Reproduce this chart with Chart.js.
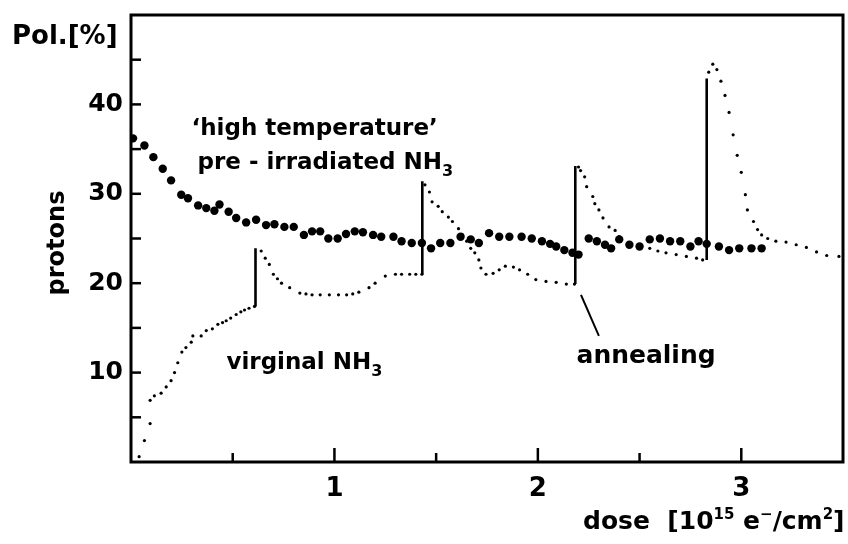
<!DOCTYPE html>
<html>
<head>
<meta charset="utf-8">
<script src="https://cdn.jsdelivr.net/npm/chart.js@4"></script>
<style>
  html, body { margin: 0; padding: 0; background: #fff; }
  canvas { display: block; }
</style>
</head>
<body>
<canvas id="grafica" width="848" height="544"></canvas>
<script>
// 'high temperature' pre-irradiated NH3 (big dots)
var highDose = [0.01, 0.066, 0.11, 0.156, 0.197, 0.247, 0.28, 0.33, 0.37, 0.41, 0.435, 0.48, 0.517, 0.566, 0.615,
  0.664, 0.705, 0.754, 0.80, 0.85, 0.89, 0.93, 0.97, 1.016, 1.057, 1.10, 1.14, 1.19, 1.23, 1.29, 1.33, 1.38, 1.43,
  1.475, 1.52, 1.57, 1.62, 1.67, 1.71, 1.76, 1.81, 1.86, 1.92, 1.97, 2.02, 2.06, 2.09, 2.13, 2.17, 2.20,
  2.25, 2.29, 2.33, 2.36, 2.40, 2.45, 2.50, 2.55, 2.60, 2.65, 2.70, 2.75, 2.79, 2.83, 2.89, 2.94, 2.99, 3.05, 3.10];
var highPol = [36.2, 35.4, 34.1, 32.8, 31.5, 29.9, 29.5, 28.7, 28.4, 28.1, 28.8, 28.0, 27.3, 26.8, 27.1,
  26.5, 26.6, 26.3, 26.3, 25.4, 25.8, 25.8, 25.0, 25.0, 25.5, 25.8, 25.7, 25.4, 25.2, 25.2, 24.7, 24.5, 24.5,
  23.9, 24.5, 24.5, 25.2, 24.9, 24.5, 25.6, 25.2, 25.2, 25.2, 25.0, 24.7, 24.4, 24.1, 23.7, 23.4, 23.2,
  25.0, 24.7, 24.3, 23.9, 24.9, 24.3, 24.1, 24.9, 25.0, 24.7, 24.7, 24.1, 24.7, 24.4, 24.1, 23.7, 23.9, 23.9, 23.9];

// virginal NH3 (small dots)
var virginDose = [0.04, 0.066, 0.094, 0.094, 0.115, 0.148, 0.173, 0.197, 0.214, 0.23, 0.25, 0.27, 0.296, 0.304,
  0.345, 0.37, 0.40, 0.427, 0.45, 0.468, 0.49, 0.517, 0.54, 0.558, 0.58, 0.607,
  0.64, 0.66, 0.68, 0.70, 0.72, 0.74, 0.78, 0.83, 0.86, 0.89, 0.93, 0.975, 1.02, 1.06, 1.09, 1.12, 1.17, 1.20,
  1.25, 1.30, 1.33, 1.37, 1.40, 1.43,
  1.445, 1.467, 1.48, 1.51, 1.53, 1.56, 1.58, 1.61, 1.63, 1.65, 1.67, 1.69, 1.71, 1.72, 1.745, 1.78, 1.81, 1.84,
  1.88, 1.91, 1.95, 1.99, 2.04, 2.09, 2.14, 2.18,
  2.20, 2.21, 2.23, 2.24, 2.27, 2.28, 2.30, 2.32, 2.35, 2.38, 2.40, 2.45, 2.50, 2.55, 2.59, 2.63, 2.68, 2.73,
  2.78, 2.81,
  2.84, 2.86, 2.88, 2.90, 2.92, 2.94, 2.96, 2.98, 3.00, 3.02, 3.03, 3.06, 3.08, 3.10, 3.13, 3.17, 3.22, 3.27,
  3.32, 3.37, 3.42, 3.48];
var virginPol = [0.6, 2.4, 4.3, 6.9, 7.4, 7.7, 8.4, 9.1, 10.0, 11.1, 12.3, 12.8, 13.4, 14.1,
  14.1, 14.7, 14.9, 15.4, 15.6, 15.8, 16.1, 16.5, 16.8, 17.0, 17.2, 17.4,
  23.6, 22.8, 22.1, 21.0, 20.5, 20.0, 19.5, 18.9, 18.8, 18.7, 18.7, 18.7, 18.7, 18.7, 18.8, 19.0, 19.5, 20.0,
  20.8, 21.0, 21.0, 21.0, 21.0, 21.0,
  31.0, 30.2, 29.1, 28.6, 28.0, 27.4, 26.9, 26.1, 25.4, 24.7, 23.9, 23.4, 22.6, 21.7, 21.0, 21.1, 21.5, 21.9,
  21.8, 21.5, 21.0, 20.4, 20.2, 20.1, 19.9, 19.9,
  33.0, 32.6, 31.9, 30.8, 29.7, 28.9, 28.2, 27.3, 26.3, 25.9, 25.2, 24.5, 24.1, 23.9, 23.6, 23.4, 23.2, 23.0,
  22.8, 22.6,
  43.6, 44.5, 43.9, 42.6, 41.0, 39.1, 36.6, 34.3, 32.4, 29.9, 28.2, 26.9, 26.0, 25.4, 25.0, 24.7, 24.6, 24.3,
  24.0, 23.5, 23.1, 23.0];

// annealing steps
var jumpDose = [0.612, 1.432, 2.184, 2.83];
var jumpLow = [17.4, 21.0, 19.9, 22.6];
var jumpHigh = [23.9, 31.4, 33.1, 42.9];

var xTicks = [1, 2, 3];
var yTicks = [10, 20, 30, 40];

var FONT = '"DejaVu Sans", "Liberation Sans", sans-serif';

function puntos(xs, ys) {
  return xs.map(function (v, i) { return { x: v, y: ys[i] }; });
}

var saltos = [];
jumpDose.forEach(function (d, i) {
  saltos.push({ x: d, y: jumpLow[i] }, { x: d, y: jumpHigh[i] }, { x: d, y: null });
});

function texto(ctx, x, y, partes) {
  partes.forEach(function (p) {
    ctx.font = 'bold ' + p[1] + 'px ' + FONT;
    ctx.fillText(p[0], x, y + (p[2] || 0));
    x += ctx.measureText(p[0]).width;
  });
}

var marco = {
  id: 'marco',
  afterDraw: function (chart) {
    var ctx = chart.ctx, a = chart.chartArea, sx = chart.scales.x, sy = chart.scales.y;
    ctx.save();
    ctx.strokeStyle = '#000';
    ctx.fillStyle = '#000';
    ctx.lineCap = 'butt';
    ctx.lineWidth = 3;
    ctx.strokeRect(a.left, a.top, a.right - a.left, a.bottom - a.top);

    // inward ticks every 0.5 on x, every 5 on y
    ctx.lineWidth = 2.5;
    var v, p;
    for (v = 0.5; v < sx.max; v += 0.5) {
      p = sx.getPixelForValue(v);
      ctx.beginPath(); ctx.moveTo(p, a.bottom); ctx.lineTo(p, a.bottom - (Number.isInteger(v) ? 14 : 9)); ctx.stroke();
    }
    for (v = 5; v < sy.max; v += 5) {
      p = sy.getPixelForValue(v);
      ctx.beginPath(); ctx.moveTo(a.left, p); ctx.lineTo(a.left + 10, p); ctx.stroke();
    }

    // annealing pointer
    ctx.lineWidth = 2;
    ctx.beginPath();
    ctx.moveTo(sx.getPixelForValue(2.212), sy.getPixelForValue(18.7));
    ctx.lineTo(sx.getPixelForValue(2.30), sy.getPixelForValue(14.1));
    ctx.stroke();

    ctx.textAlign = 'left';
    ctx.textBaseline = 'alphabetic';
    texto(ctx, sx.getPixelForValue(0.297), sy.getPixelForValue(36.6), [["\u2018high temperature\u2019", 23]]);
    texto(ctx, sx.getPixelForValue(0.327), sy.getPixelForValue(32.8), [['pre - irradiated NH', 23], ['3', 16, 7]]);
    texto(ctx, sx.getPixelForValue(0.469), sy.getPixelForValue(10.4), [['virginal NH', 23], ['3', 16, 7]]);
    texto(ctx, sx.getPixelForValue(2.19), sy.getPixelForValue(11.1), [['annealing', 25]]);

    // axis titles
    texto(ctx, 12, 44, [['Pol.[%]', 26]]);
    texto(ctx, 583, 529, [['dose  [10', 25], ['15', 15, -10], [' e', 25], ['\u2212', 15, -10], ['/cm', 25], ['2', 15, -10], [']', 25]]);
    ctx.translate(64, 243);
    ctx.rotate(-Math.PI / 2);
    ctx.textAlign = 'center';
    ctx.font = 'bold 24px ' + FONT;
    ctx.fillText('protons', 0, 0);
    ctx.restore();
  }
};

new Chart(document.getElementById('grafica'), {
  type: 'scatter',
  data: {
    datasets: [
      {
        label: 'high temperature pre-irradiated NH3',
        data: puntos(highDose, highPol),
        pointRadius: 4.2,
        pointBorderWidth: 0,
        pointBackgroundColor: '#000',
        borderColor: '#000'
      },
      {
        label: 'virginal NH3',
        data: puntos(virginDose, virginPol),
        pointRadius: 1.6,
        pointBorderWidth: 0,
        pointBackgroundColor: '#000',
        borderColor: '#000'
      },
      {
        label: 'annealing',
        data: saltos,
        showLine: true,
        spanGaps: false,
        pointRadius: 0,
        borderWidth: 2.6,
        borderColor: '#000'
      }
    ]
  },
  options: {
    responsive: false,
    animation: false,
    devicePixelRatio: 1,
    layout: { padding: { top: 15, right: 5, left: 0, bottom: 0 } },
    plugins: { legend: { display: false }, tooltip: { enabled: false } },
    scales: {
      x: {
        type: 'linear',
        min: 0,
        max: 3.5,
        grid: { display: false, drawTicks: false },
        border: { display: false },
        ticks: {
          stepSize: 0.5,
          padding: 12,
          maxRotation: 0,
          autoSkip: false,
          color: '#000',
          font: { family: FONT, size: 26, weight: 'bold' },
          callback: function (v) { return xTicks.indexOf(v) >= 0 ? String(v) : null; }
        },
        afterFit: function (s) { s.height = 82; s.paddingLeft = 0; s.paddingRight = 0; }
      },
      y: {
        type: 'linear',
        min: 0,
        max: 50,
        grid: { display: false, drawTicks: false },
        border: { display: false },
        ticks: {
          stepSize: 5,
          padding: 8,
          autoSkip: false,
          color: '#000',
          font: { family: FONT, size: 25, weight: 'bold' },
          callback: function (v) { return yTicks.indexOf(v) >= 0 ? String(v) : null; }
        },
        afterFit: function (s) { s.width = 131; s.paddingTop = 0; s.paddingBottom = 0; }
      }
    }
  },
  plugins: [marco]
});
</script>
</body>
</html>
